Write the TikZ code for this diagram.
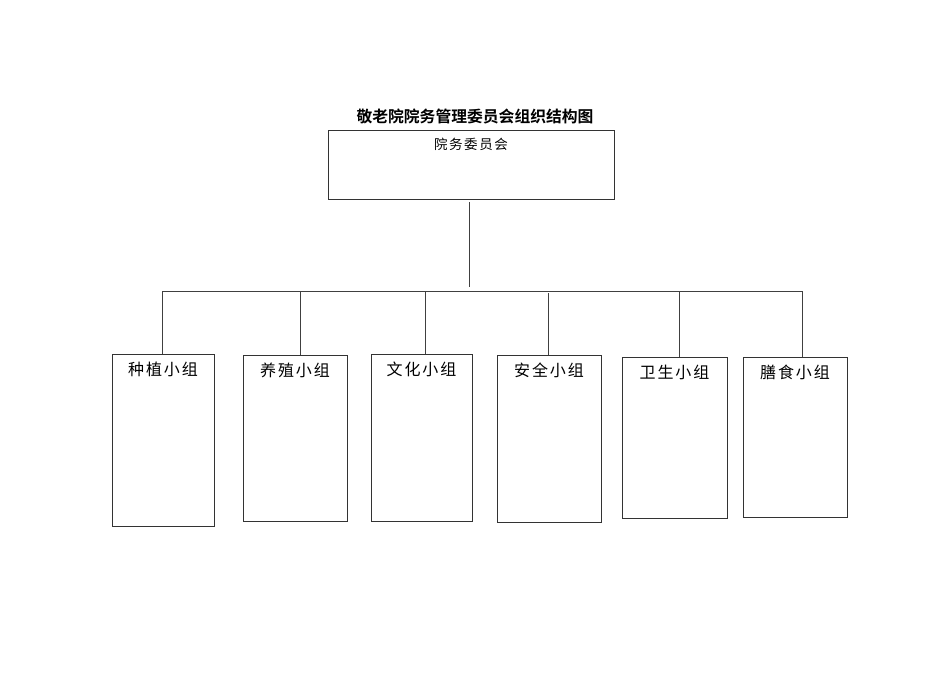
\documentclass[tikz,border=0pt]{standalone}
\usepackage{fontspec}
\setmainfont{Noto Sans CJK SC}
\newfontfamily\titlefont{Noto Sans CJK SC Bold}
\newfontfamily\boxfont{Noto Sans CJK SC}[LetterSpace=12]
\tikzset{%
    org/.style={draw=black!80, line width=0.8pt, inner sep=0pt},
    lnk/.style={draw=black!75, line width=0.8pt},
    grptxt/.style={anchor=center, yshift=-16pt, inner sep=0pt, font=\boxfont\fontsize{16}{19}\selectfont}
}

\begin{document}
\begin{tikzpicture}[x=1pt,y=-1pt]
        \useasboundingbox (0,0) rectangle (950,672);

        \node[font=\titlefont\fontsize{15.8}{18}\selectfont] (title) at (475,116){敬老院院务管理委员会组织结构图};
        \node[org, minimum width=286pt, minimum height=69pt,
              label={[anchor=center, yshift=-15pt, inner sep=0pt, font=\boxfont\fontsize{13.5}{16}\selectfont]north:院务委员会}] (wwh) at (471,164.5){};

        \node[org, minimum width=102pt, minimum height=172pt, label={[grptxt]north:种植小组}] (g1) at (163,440){};
        \node[org, minimum width=104pt, minimum height=166pt, label={[grptxt]north:养殖小组}] (g2) at (295,438){};
        \node[org, minimum width=101pt, minimum height=167pt, label={[grptxt]north:文化小组}] (g3) at (421.5,437.5){};
        \node[org, minimum width=104pt, minimum height=167pt, label={[grptxt]north:安全小组}] (g4) at (549,438.5){};
        \node[org, minimum width=105pt, minimum height=161pt, label={[grptxt]north:卫生小组}] (g5) at (674.5,437.5){};
        \node[org, minimum width=104pt, minimum height=160pt, label={[grptxt]north:膳食小组}] (g6) at (795,437){};

        \coordinate (hub) at (469,287);
        \coordinate (b1) at (162,291);
        \coordinate (b2) at (300,291);
        \coordinate (b3) at (425,291);
        \coordinate (b4) at (548,291);
        \coordinate (b5) at (679,291);
        \coordinate (b6) at (802,291);

        \draw[lnk] ([yshift=-3pt]wwh.south -| hub) -- (hub);
        \draw[lnk] (b1) -- (b6);
        \draw[lnk] (b1) -- (b1 |- g1.north);
        \draw[lnk] (b2) -- (b2 |- g2.north);
        \draw[lnk] (b3) -- (b3 |- g3.north);
        \draw[lnk] ([yshift=-2pt]b4) -- (b4 |- g4.north);
        \draw[lnk] (b5) -- (b5 |- g5.north);
        \draw[lnk] (b6) -- (b6 |- g6.north);
    \end{tikzpicture}
\end{document}
